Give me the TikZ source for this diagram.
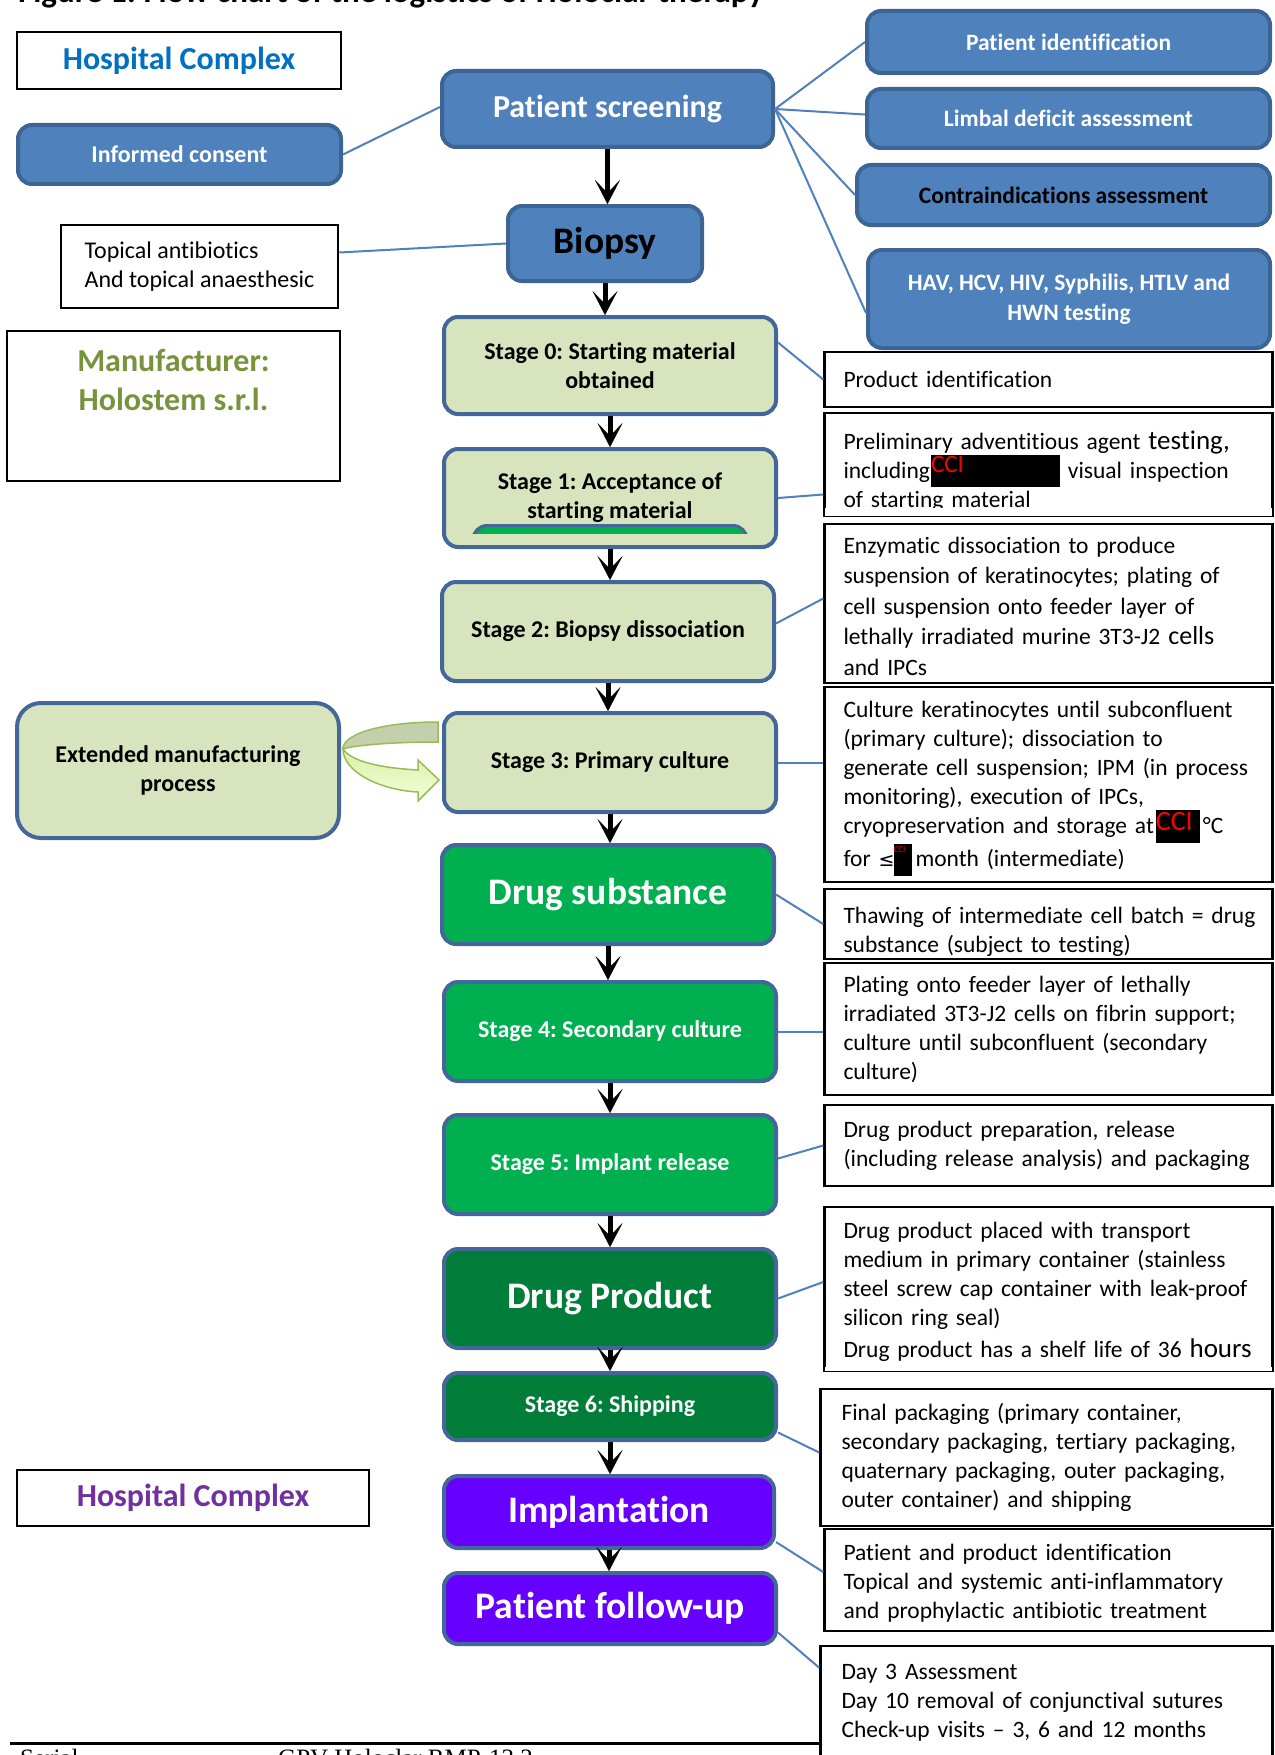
\documentclass[tikz,border=0pt]{standalone}
\usepackage{fontspec}
\setmainfont{Carlito}[Ligatures={TeX,NoCommon,NoContextual}]
\newfontfamily\footfont{Liberation Serif}
\newfontfamily\symfont{DejaVu Sans}
\usetikzlibrary{arrows.meta,calc}
\definecolor{bluefill}{HTML}{4F81BD}
\definecolor{blueborder}{HTML}{3C6494}
\definecolor{stageborder}{HTML}{44679A}
\definecolor{lightgreen}{HTML}{D7E4BD}
\definecolor{mygreen}{HTML}{00B050}
\definecolor{darkgreen}{HTML}{007E39}
\definecolor{purplefill}{HTML}{6600FF}
\definecolor{linkblue}{HTML}{4F81BD}
\definecolor{hcblue}{HTML}{0070C0}
\definecolor{hcpurple}{HTML}{7030A0}
\definecolor{olivetext}{HTML}{77933C}
\definecolor{arrowgreen}{HTML}{9BBB59}
\definecolor{backband}{HTML}{C4D0AC}
\definecolor{frontlight}{HTML}{F2FFD8}
\definecolor{frontdark}{HTML}{D9F0A8}
\newcommand\tline[1]{\mbox{#1}}
\newcommand\redact[5]{\makebox[#1][l]{\rlap{\rule[-#3]{#1}{\dimexpr #2+#3\relax}}\raisebox{#5}{\color{red}\fontsize{#4}{#4}\selectfont CCI}}}
\tikzset{
  box/.style={rounded corners=14pt, line width=4pt, align=center, inner sep=3pt},
  bluebox/.style={box, fill=bluefill, draw=blueborder, text=white, font=\bfseries\fontsize{23.5}{30}\selectfont},
  stagebox/.style={box, fill=lightgreen, draw=stageborder, text=black, font=\bfseries\fontsize{24}{29}\selectfont, minimum width=332pt},
  greenbox/.style={stagebox, fill=mygreen, text=white},
  dgreenbox/.style={stagebox, fill=darkgreen, text=white},
  purplebox/.style={stagebox, fill=purplefill, text=white},
  bigtext/.style={font=\bfseries\fontsize{37.5}{42}\selectfont},
  whitebox/.style={draw=black, line width=2.5pt, fill=white, align=center, inner sep=3pt},
  textbox/.style={draw=black, line width=2.5pt, fill=white, align=left, text width=410pt, inner xsep=19pt, inner ysep=0pt, font=\fontsize{23.5}{29}\selectfont},
  link/.style={draw=linkblue, line width=2pt},
  flowarrow/.style={line width=5pt, -{Stealth[length=24pt,width=25pt,inset=13pt,line width=0.1pt]}}
}
\begin{document}
\frenchspacing
\begin{tikzpicture}[x=1pt,y=-1pt]
\fill[white] (0,0) rectangle (1274,1755);
\useasboundingbox (0,0) rectangle (1274,1755);

% title (cut off at top)
\node[anchor=base west, inner sep=0pt, font=\bfseries\fontsize{33}{36}\selectfont] (title) at (18,3) {Figure 1: Flow chart of the logistics of Holoclar therapy};

% left column
\node[whitebox, minimum width=324pt, minimum height=57pt, text=hcblue, font=\bfseries\fontsize{32}{38}\selectfont] (hctop) at (179,60.5) {Hospital Complex};
\node[bluebox, minimum width=323pt, minimum height=59pt, font=\bfseries\fontsize{24}{30}\selectfont] (ic) at (179.5,154.5) {Informed consent};
\node[whitebox, minimum width=277pt, minimum height=83pt, align=left, font=\fontsize{24}{29}\selectfont] (topical) at (199.5,266.5) {Topical antibiotics\\And topical anaesthesic};
\node[whitebox, minimum width=333pt, minimum height=150pt] (manuf) at (173.5,406) {};
\node[anchor=north, inner sep=0pt, align=center, text=olivetext, font=\bfseries\fontsize{32}{39}\selectfont] (manuftxt) at ($(manuf.north)+(0,19)$) {Manufacturer:\\Holostem s.r.l.};
\node[stagebox, rounded corners=24pt, minimum width=322pt, minimum height=135pt] (ext) at (178,770.5) {Extended manufacturing\\process};
\node[whitebox, minimum width=352pt, minimum height=56pt, text=hcpurple, font=\bfseries\fontsize{32}{38}\selectfont] (hcbot) at (193,1498) {Hospital Complex};

% main column
\node[bluebox, minimum width=331pt, minimum height=76pt, font=\bfseries\fontsize{32}{38}\selectfont] (ps) at (607.5,109) {Patient screening};
\node[bluebox, minimum width=194pt, minimum height=75pt, text=black, font=\bfseries\fontsize{37.5}{42}\selectfont] (bio) at (605,243.5) {Biopsy};
\node[stagebox, minimum height=97pt] (s0) at (610,365.5) {Stage 0: Starting material\\obtained};
\node[stagebox, minimum height=98pt] (s1) at (610,498) {Stage 1: Acceptance of\\starting material};
\begin{scope}
  \clip (468,520) rectangle (752,533);
  \draw[fill=mygreen, draw=stageborder, line width=3pt, rounded corners=14pt] (473,525.5) rectangle (747,580);
\end{scope}
\node[stagebox, minimum height=99pt] (s2) at (608,631.5) {Stage 2: Biopsy dissociation};
\node[stagebox, minimum height=99pt] (s3) at (610,762.5) {Stage 3: Primary culture};
\node[greenbox, bigtext, minimum height=99pt] (ds) at (608,894.5) {Drug substance};
\node[greenbox, minimum height=99pt] (s4) at (610,1031.5) {Stage 4: Secondary culture};
\node[greenbox, minimum height=99pt] (s5) at (610,1164.5) {Stage 5: Implant release};
\node[dgreenbox, bigtext, minimum height=99pt] (dp) at (610,1298.5) {Drug Product};
\node[dgreenbox, minimum height=67pt] (s6) at (610,1406.5) {Stage 6: Shipping};
\node[purplebox, bigtext, minimum width=330pt, minimum height=72pt] (impl) at (609,1512) {Implantation};
\node[purplebox, bigtext, minimum height=71pt] (pfu) at (610,1608.5) {Patient follow-up};

% curved arrow (extended manufacturing loop)
\path[draw=arrowgreen, line width=1.5pt, fill=backband] (438,722) .. controls (385,722) and (343,733) .. (343,749) .. controls (355,745) and (395,742) .. (438,742) -- cycle;
\path[draw=arrowgreen, line width=1.5pt, top color=frontdark, bottom color=frontlight] (343,749) .. controls (343,772) and (380,790) .. (418,792) -- (418,801) -- (439,780) -- (418,760) -- (418,770) .. controls (382,768) and (352,762) .. (343,749) -- cycle;

% right column blue boxes
\node[bluebox, minimum width=403pt, minimum height=62pt] (pi) at (1068.5,42) {Patient identification};
\node[bluebox, minimum width=403pt, minimum height=59pt] (lda) at (1068.5,118.5) {Limbal deficit assessment};
\node[bluebox, minimum width=413pt, minimum height=60pt, text=black] (cia) at (1063.5,195) {Contraindications assessment};
\node[bluebox, minimum width=402pt, minimum height=98pt] (hav) at (1069,299) {HAV, HCV, HIV, Syphilis, HTLV and\\HWN testing};

% right column text boxes
\node[textbox, minimum height=55pt] (prodid) at (1048.5,379.5) {Product identification};
\node[textbox, minimum height=103pt] (prelim) at (1048.5,464.5) {\tline{\rule{0pt}{32pt}Preliminary adventitious agent {\fontsize{27}{29}\selectfont testing,}}\\\tline{including\kern1pt\redact{129pt}{23pt}{9pt}{25pt}{6pt}\ visual inspection}\\\tline{of starting material}};
\fill[white] ($(prelim.south west)+(2,-9)$) rectangle ($(prelim.south east)+(-2,-1.5)$);
\node[textbox, minimum height=159pt, font=\fontsize{23.5}{30.5}\selectfont] (enzym) at (1048.5,603.5) {\tline{\rule{0pt}{22pt}Enzymatic dissociation to produce}\\\tline{suspension of keratinocytes; plating of}\\\tline{cell suspension onto feeder layer of}\\\tline{lethally irradiated murine 3T3-J2 {\fontsize{26}{29}\selectfont cells}}\\\tline{and IPCs}};
\node[textbox, minimum height=195pt] (cult) at (1048.5,784.5) {\tline{\rule{0pt}{24pt}Culture keratinocytes until subconfluent}\\\tline{(primary culture); dissociation to}\\\tline{generate cell suspension; IPM (in process}\\\tline{monitoring), execution of IPCs,}\\\tline{cryopreservation and storage at\kern2pt\redact{44pt}{23pt}{10pt}{28pt}{3pt}\kern3pt°C}\\\tline{for {\symfont\fontsize{19}{29}\selectfont ≤}\kern-1pt\redact{18pt}{22pt}{10pt}{9pt}{14pt}\kern4pt month (intermediate)}};
\node[textbox, minimum height=70pt] (thaw) at (1048.5,924) {\tline{\rule{0pt}{32pt}Thawing of intermediate cell batch = drug}\\\tline{substance (subject to testing)}};
\node[textbox, minimum height=132pt] (plat) at (1048.5,1029) {\tline{Plating onto feeder layer of lethally}\\\tline{irradiated 3T3-J2 cells on fibrin support;}\\\tline{culture until subconfluent (secondary}\\\tline{culture)}};
\node[textbox, minimum height=81pt] (dpprep) at (1048.5,1145.5) {\tline{Drug product preparation, release}\\\tline{(including release analysis) and packaging}};
\node[textbox, minimum height=164pt] (dpplaced) at (1048.5,1289) {\tline{\rule{0pt}{22pt}Drug product placed with transport}\\\tline{medium in primary container (stainless}\\\tline{steel screw cap container with leak-proof}\\\tline{silicon ring seal)}\\[3pt]\tline{Drug product has a shelf life of 36 {\fontsize{27}{29}\selectfont hours}}};
\fill[white] ($(dpplaced.south west)+(2,-5)$) rectangle ($(dpplaced.south east)+(-2,-1.5)$);
\node[textbox, inner xsep=21pt, minimum height=137pt] (final) at (1046.5,1457.5) {\tline{Final packaging (primary container,}\\\tline{secondary packaging, tertiary packaging,}\\\tline{quaternary packaging, outer packaging,}\\\tline{outer container) and shipping}};
\node[textbox, minimum height=102pt] (pp) at (1048.5,1580) {\tline{\rule{0pt}{22pt}Patient and product identification}\\\tline{Topical and systemic anti-inflammatory}\\\tline{and prophylactic antibiotic treatment}};
\node[textbox, inner xsep=21pt, minimum height=113pt] (day3) at (1046.5,1702.5) {\tline{Day 3 Assessment}\\\tline{Day 10 removal of conjunctival sutures}\\\tline{Check-up visits – 3, 6 and 12 months}};

% connectors
\draw[link] (ps.east) -- (pi.west);
\draw[link] (ps.east) -- ($(lda.west)+(0,-4)$);
\draw[link] (ps.east) -- (cia.west);
\draw[link] (ps.east) -- ($(hav.west)+(0,14)$);
\draw[link] (ic.east) -- ($(ps.west)+(0,-2)$);
\draw[link] ($(topical.east)+(0,-14)$) -- (bio.west);
\draw[link] ($(s0.east)+(0,-23)$) -- (prodid.west);
\draw[link] (s1.east) -- ($(prelim.west)+(0,30)$);
\draw[link] ($(s2.east)+(0,-8)$) -- ($(enzym.west)+(0,-5)$);
\draw[link] (s3.east) -- (s3.east -| cult.west);
\draw[link] (ds.east) -- (thaw.west);
\draw[link] (s4.east) -- (s4.east -| plat.west);
\draw[link] ($(s5.east)+(0,-6)$) -- (dpprep.west);
\draw[link] (dp.east) -- ($(dpplaced.west)+(0,-7)$);
\draw[link] ($(s6.east)+(0,26)$) -- ($(final.west)+(0,-5)$);
\draw[link] ($(impl.east)+(0,30)$) -- ($(pp.west)+(0,-8)$);
\draw[link] ($(pfu.east)+(0,24)$) -- ($(day3.north west)+(0,23)$);

% flow arrows
\foreach \a/\b in {ps/bio, bio/s0, s0/s1, s1/s2, s2/s3, s3/ds, ds/s4, s4/s5, s5/dp, dp/s6, s6/impl, impl/pfu}
  \draw[flowarrow] (\a.south) -- (\a.south |- \b.north);

% footer (cut off at bottom)
\coordinate (footL) at (10,1743);
\draw[line width=3pt] (footL) -- (footL -| day3.west);
\node[anchor=base west, inner sep=0pt, font=\footfont\fontsize{25}{30}\selectfont] (foot1) at (20,1766) {Serial};
\node[anchor=base west, inner sep=0pt, font=\footfont\fontsize{25}{30}\selectfont] (foot2) at (278,1766) {GPV-Holoclar RMP-13.2};
\end{tikzpicture}
\end{document}
